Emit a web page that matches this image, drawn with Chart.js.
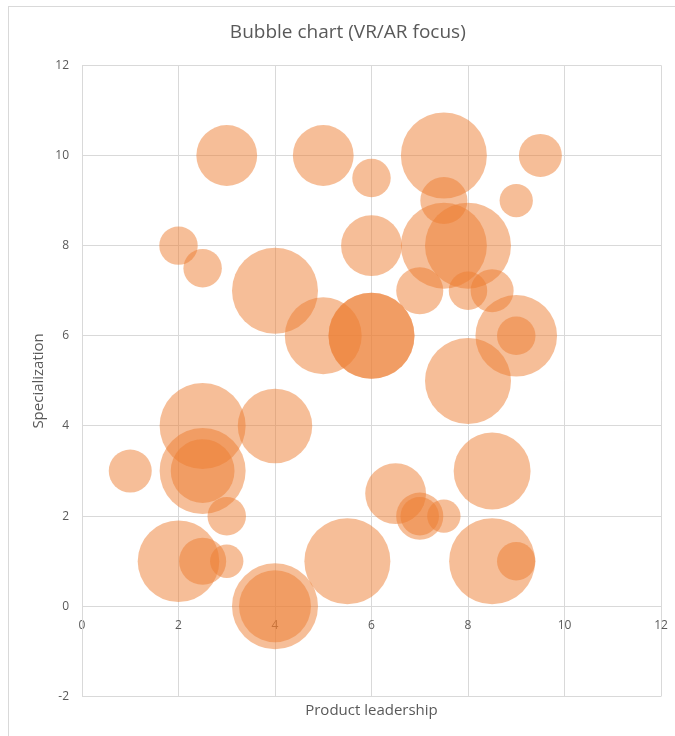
<!DOCTYPE html>
<html>
<head>
<meta charset="utf-8">
<title>Bubble chart (VR/AR focus)</title>
<script src="https://cdn.jsdelivr.net/npm/chart.js@4.4.1/dist/chart.umd.min.js"></script>
<style>
    html, body { margin: 0; padding: 0; background: #fff; overflow: hidden; }
    #frame {
        position: absolute; left: 8px; top: 6px; width: 720px; height: 800px;
        border: 1px solid #d9d9d9; box-sizing: border-box;
    }
    /* canvas is a bit larger than the window: bubble overflow padding lands off-screen */
    #wrap { position: absolute; left: 0; top: 0; width: 705px; height: 745px; }
</style>
</head>
<body>
<div id="frame"></div>
<div id="wrap"><canvas id="chart-canvas" width="705" height="745"></canvas></div>
<script>
// Bubble data (one entry per bubble)
const productLeadership = [3, 5, 6, 7.5, 9.5, 7.5, 9, 2, 2.5, 6, 7.5, 8, 4, 7, 8, 8.5, 5, 6, 6, 9, 9, 8,
    2.5, 4, 1, 2.5, 2.5, 8.5, 6.5, 3, 7, 7, 7.5, 2, 2.5, 3, 5.5, 8.5, 9, 4, 4];
const specialization = [10, 10, 9.5, 10, 10, 9, 9, 8, 7.5, 8, 8, 8, 7, 7, 7, 7, 6, 6, 6, 6, 6, 5,
    4, 4, 3, 3, 3, 3, 2.5, 2, 2, 2, 2, 1, 1, 1, 1, 1, 1, 0, 0];
const bubbleSize = [5, 5, 2, 10, 2.5, 3, 1.5, 2, 2, 5, 10, 10, 10, 3, 2, 2.5, 8, 10, 10, 9, 2, 10,
    10, 7.5, 2.5, 10, 5.5, 8, 5, 2, 3, 2, 1.5, 9, 3, 1.5, 10, 10, 2, 10, 7];

const xTicks = [0, 2, 4, 6, 8, 10, 12];
const yTicks = [-2, 0, 2, 4, 6, 8, 10, 12];

// bubble area proportional to size, largest bubble = 43px radius
const maxRadius = 43;
const maxSize = Math.max(...bubbleSize);

const points = productLeadership.map((x, i) => ({
    x: x,
    y: specialization[i],
    r: maxRadius * Math.sqrt(bubbleSize[i] / maxSize)
}));

const textColor = '#595959';
const gridColor = '#d9d9d9';

Chart.defaults.font.family = "'Open Sans', 'Noto Sans', sans-serif";
Chart.defaults.color = textColor;

// center the title on the visible chart frame instead of the padded box
const titleCenter = {
    id: 'titleCenter',
    afterLayout(chart) {
        if (chart.titleBlock) {
            chart.titleBlock.left = 8;
            chart.titleBlock.right = 687.6;
        }
    }
};

const ctx = document.getElementById('chart-canvas').getContext('2d');
const chart = new Chart(ctx, {
    type: 'bubble',
    data: {
        datasets: [{
            label: 'VR/AR',
            data: points,
            backgroundColor: 'rgba(237, 125, 49, 0.5)',
            borderWidth: 0,
            hoverBorderWidth: 0
        }]
    },
    options: {
        responsive: false,
        animation: false,
        devicePixelRatio: 1,
        layout: { padding: { left: 0, right: 44, top: 0, bottom: 8.5 } },
        plugins: {
            legend: { display: false },
            tooltip: { enabled: false },
            title: {
                display: true,
                text: 'Bubble chart (VR/AR focus)',
                color: textColor,
                font: { size: 19, weight: 'normal' },
                padding: { top: 21.5, bottom: 21 }
            }
        },
        scales: {
            x: {
                type: 'linear',
                min: 0,
                max: 12,
                position: { y: 0 },
                afterBuildTicks: scale => { scale.ticks = xTicks.map(v => ({ value: v })); },
                ticks: { font: { size: 12 }, color: textColor, padding: 12 },
                grid: { color: gridColor, drawTicks: false },
                border: { color: gridColor }
            },
            // bottom axis used only for the axis title
            x2: {
                type: 'linear',
                position: 'bottom',
                min: 0,
                max: 12,
                ticks: { display: false },
                grid: { display: false, drawTicks: false },
                border: { display: false },
                title: {
                    display: true,
                    text: 'Product leadership',
                    color: textColor,
                    font: { size: 15 },
                    padding: { top: 5, bottom: 17 }
                }
            },
            y: {
                type: 'linear',
                min: -2,
                max: 12,
                position: 'left',
                afterBuildTicks: scale => { scale.ticks = yTicks.map(v => ({ value: v })); },
                afterFit: scale => {
                    scale.width = 82;
                    scale.paddingTop = 0;
                    scale.paddingBottom = 0;
                },
                ticks: { font: { size: 12 }, color: textColor, padding: 13 },
                grid: { color: gridColor, drawTicks: false },
                border: { color: gridColor },
                title: {
                    display: true,
                    text: 'Specialization',
                    color: textColor,
                    font: { size: 15 },
                    padding: { top: 30, bottom: 0 }
                }
            }
        }
    },
    plugins: [titleCenter]
});
</script>
</body>
</html>
